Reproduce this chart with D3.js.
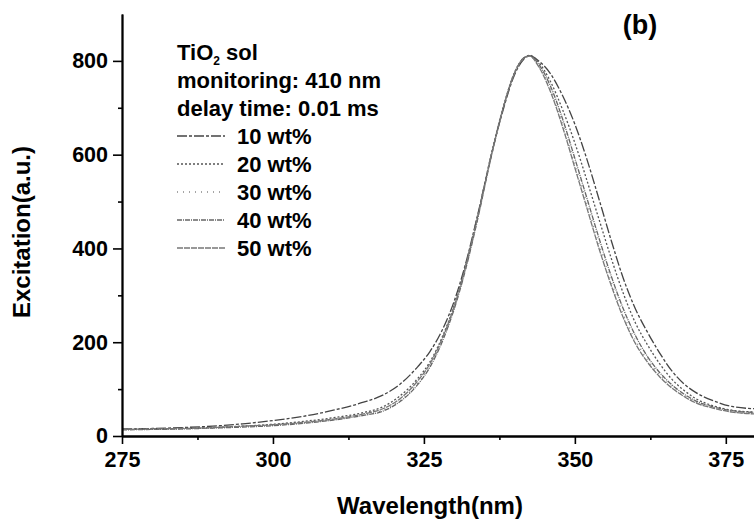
<!DOCTYPE html>
<html>
<head>
<meta charset="utf-8">
<script src="https://cdn.jsdelivr.net/npm/d3@7"></script>
<style>
  body { margin: 0; background: #fff; }
  svg text { font-family: "Liberation Sans", Arial, sans-serif; font-weight: bold; fill: #000; }
</style>
</head>
<body>
<svg id="chart" width="754" height="528"></svg>
<script>
// wavelength grid (nm) shared by all series
var wavelengths = [275,280,285,290,295,300,305,310,315,318,321,324,326,328,330,332,334,336,338,340,341.5,342.5,344,346,348,350,352,354,356,358,360,362,364,366,368,370,373,376,380];

var wt10 = [15,16,18,21,26,33,42,55,72,86,110,148,180,225,287,372,477,590,690,770,803,811,800,772,725,665,590,505,418,337,272,222,178,140,112,93,75,63,58];
var wt20 = [14,15,16,18,21,25,31,39,50,61,85,123,158,210,278,368,475,592,695,775,806,812,797,755,695,625,545,462,380,305,242,195,155,122,98,80,64,55,51];
var wt30 = [14,15,16,17,20,23,28,35,45,54,75,113,150,203,272,362,470,588,692,772,804,810,790,738,665,580,495,410,330,260,205,163,131,106,87,73,60,52,48];
var wt40 = [13,14,15,17,19,22,27,34,44,52,73,110,147,200,270,360,468,587,693,774,806,811,793,745,675,592,507,422,342,272,215,170,136,110,90,75,62,54,50];
var wt50 = [14,15,16,18,21,24,29,36,47,57,79,118,154,207,276,366,473,590,694,773,805,810,788,733,658,572,486,400,322,253,198,158,127,103,85,71,59,51,47];

var seriesNames = ["10 wt%", "20 wt%", "30 wt%", "40 wt%", "50 wt%"];
var seriesValues = [wt10, wt20, wt30, wt40, wt50];

var xMajor = [275, 300, 325, 350, 375];
var xMinor = [287.5, 312.5, 337.5, 362.5];
var yMajor = [0, 200, 400, 600, 800];
var yMinor = [100, 300, 500, 700];

// line look for each series (same order as seriesNames)
var dashes = ["10,2,3,2", "2,2", "1,5", "5,1,1,1", "6,1"];
var colors = ["#444", "#555", "#888", "#666", "#777"];

var svg = d3.select("#chart");

var x = d3.scaleLinear().domain([275, 380]).range([122, 756]);
var y = d3.scaleLinear().domain([0, 900]).range([436, 14]);

// clip the curves at the right edge of the plot
svg.append("clipPath").attr("id", "plotclip")
  .append("rect").attr("x", 122).attr("y", 0).attr("width", 640).attr("height", 436);

var line = d3.line()
  .x(function(d) { return x(d[0]); })
  .y(function(d) { return y(d[1]); })
  .curve(d3.curveMonotoneX);

var curves = svg.append("g").attr("clip-path", "url(#plotclip)");
seriesValues.forEach(function(vals, i) {
  curves.append("path")
    .datum(wavelengths.map(function(w, j) { return [w, vals[j]]; }))
    .attr("d", line)
    .attr("fill", "none")
    .attr("stroke", colors[i])
    .attr("stroke-width", 1.3)
    .attr("stroke-dasharray", dashes[i]);
});

// axes: minor ticks drawn first without labels, then major ticks
svg.append("g").attr("transform", "translate(0,436)")
  .call(d3.axisBottom(x).tickValues(xMinor).tickSize(4).tickSizeOuter(0).tickFormat(function() { return ""; }));
svg.append("g").attr("transform", "translate(0,436)")
  .call(d3.axisBottom(x).tickValues(xMajor).tickSize(8).tickSizeOuter(0).tickPadding(8));

svg.append("g").attr("transform", "translate(122,0)")
  .call(d3.axisLeft(y).tickValues(yMinor).tickSize(4).tickSizeOuter(0).tickFormat(function() { return ""; }));
svg.append("g").attr("transform", "translate(122,0)")
  .call(d3.axisLeft(y).tickValues(yMajor).tickSize(9).tickSizeOuter(0).tickPadding(5));

svg.selectAll(".domain").attr("stroke-width", 1.8);
svg.selectAll(".tick line").attr("stroke-width", 1.6);
svg.selectAll(".tick text").attr("font-size", 21.5)
  .attr("font-family", "Liberation Sans").attr("font-weight", "bold");

// axis titles
svg.append("text").text("Wavelength(nm)")
  .attr("x", 430).attr("y", 514).attr("text-anchor", "middle").attr("font-size", 24);
svg.append("text").text("Excitation(a.u.)")
  .attr("transform", "translate(30,232) rotate(-90)").attr("text-anchor", "middle").attr("font-size", 24);

svg.append("text").text("(b)")
  .attr("x", 640).attr("y", 34).attr("text-anchor", "middle").attr("font-size", 27);

// legend block
var lg = svg.append("g").attr("font-size", 22);
var t = lg.append("text").attr("x", 177).attr("y", 60);
t.append("tspan").text("TiO");
t.append("tspan").text("2").attr("font-size", 12).attr("dy", 5);
t.append("tspan").text(" sol").attr("dy", -5);
lg.append("text").text("monitoring: 410 nm").attr("x", 177).attr("y", 88);
lg.append("text").text("delay time: 0.01 ms").attr("x", 177).attr("y", 116);

seriesNames.forEach(function(name, i) {
  var yy = 136 + i * 28;
  lg.append("line")
    .attr("x1", 177).attr("x2", 225).attr("y1", yy).attr("y2", yy)
    .attr("stroke", colors[i]).attr("stroke-width", 1.3).attr("stroke-dasharray", dashes[i]);
  lg.append("text").text(name).attr("x", 237).attr("y", yy + 8);
});
</script>
</body>
</html>
